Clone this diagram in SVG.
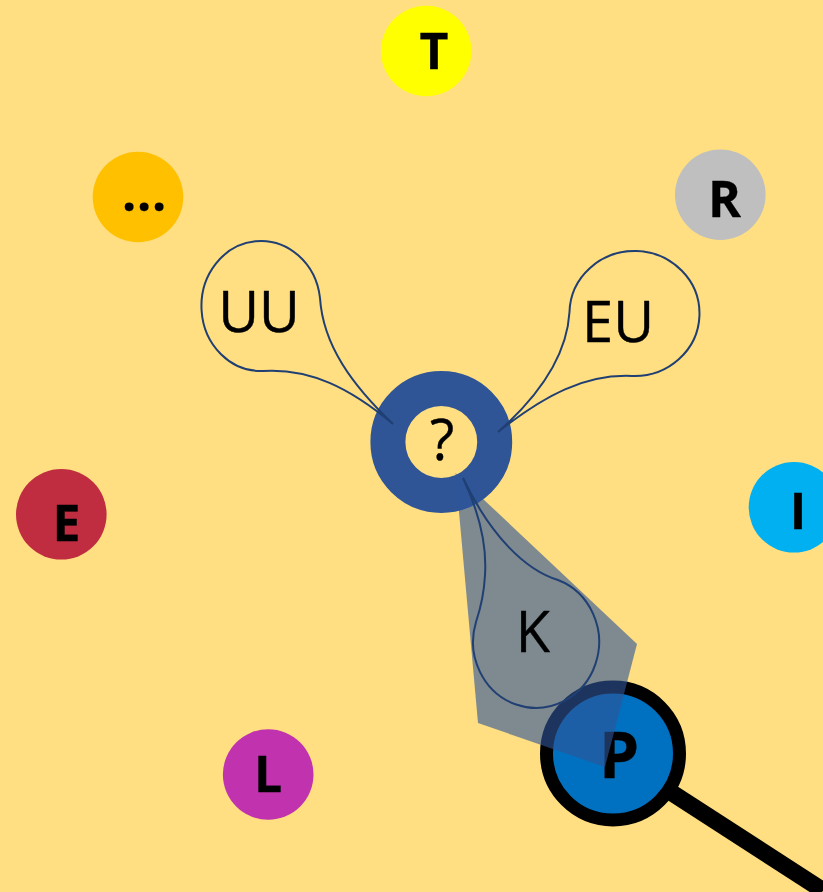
<svg xmlns="http://www.w3.org/2000/svg" width="823" height="892" viewBox="0 0 823 892">
<style>
.n{font-family:"Open Sans","Noto Sans","DejaVu Sans",sans-serif;font-weight:700;font-size:50px;text-anchor:middle;fill:#000;stroke:#000;stroke-width:.3;stroke-linejoin:round}
.l{font-family:"Open Sans","Noto Sans","DejaVu Sans",sans-serif;font-size:56px;text-anchor:middle;fill:#000;stroke:#000;stroke-width:.4;stroke-linejoin:round}
.c{fill:none;stroke:#203F73;stroke-width:2}
.o{r:45.300px}
</style>
<rect width="823" height="892" fill="#FFDF81"/>
<g id="node-T"><circle class="o" cx="426.200" cy="51" fill="#FFFF00"/><text class="n" x="434" y="69">T</text></g>
<g id="node-dots"><circle class="o" cx="138" cy="197" fill="#FFC000"/><text class="n" x="144.500" y="211" letter-spacing=".8">...</text></g>
<g id="node-R"><circle class="o" cx="720.300" cy="194.700" fill="#BFBFBF"/><text class="n" x="724.500" y="217">R</text></g>
<g id="node-E"><circle class="o" cx="61.300" cy="514.300" fill="#C02D40"/><text class="n" x="66.500" y="541">E</text></g>
<g id="node-I"><circle class="o" cx="794" cy="507.300" fill="#00B0F0"/><text class="n" x="798" y="529">I</text></g>
<g id="node-L"><circle class="o" cx="268.200" cy="774.500" fill="#C032AE"/><text class="n" x="268" y="792">L</text></g>
<g id="node-P"><path d="M670 791.700L823 890.500" stroke="#000" stroke-width="17" fill="none"/><circle cx="613" cy="753.500" r="66.500" fill="#0070C0" stroke="#000" stroke-width="13"/><text class="n" x="619" y="778" style="font-size:64px">P</text></g>
<g id="node-center"><circle cx="441.300" cy="442" r="53.400" fill="none" stroke="#2F5597" stroke-width="35"/></g>
<g id="highlight"><polygon points="455.500,473 637,644 605,767 478,723" fill="#2F5597" fill-opacity=".62"/></g>
<g id="connectors">
<path class="c" d="M393 424C352 385 323 345 320 298A59.500 65 0 1 0 263 371C310 368 350 388 393 424Z"/>
<path class="c" d="M498 432C540 395 567 355 569.500 312A65 62.500 0 1 1 632 376C585 374 545 395 498 432Z"/>
<path class="c" d="M463 478C478 510 487 545 485 575C484 595 480 610 476 622A63 66 0 1 0 558 580C525 570 490 535 463 478Z"/>
</g>
<g id="labels"><text class="l" x="442" y="460">?</text><text class="l" x="259" y="332">UU</text><text class="l" x="618" y="342">EU</text><text class="l" x="533" y="652">K</text></g>
</svg>
